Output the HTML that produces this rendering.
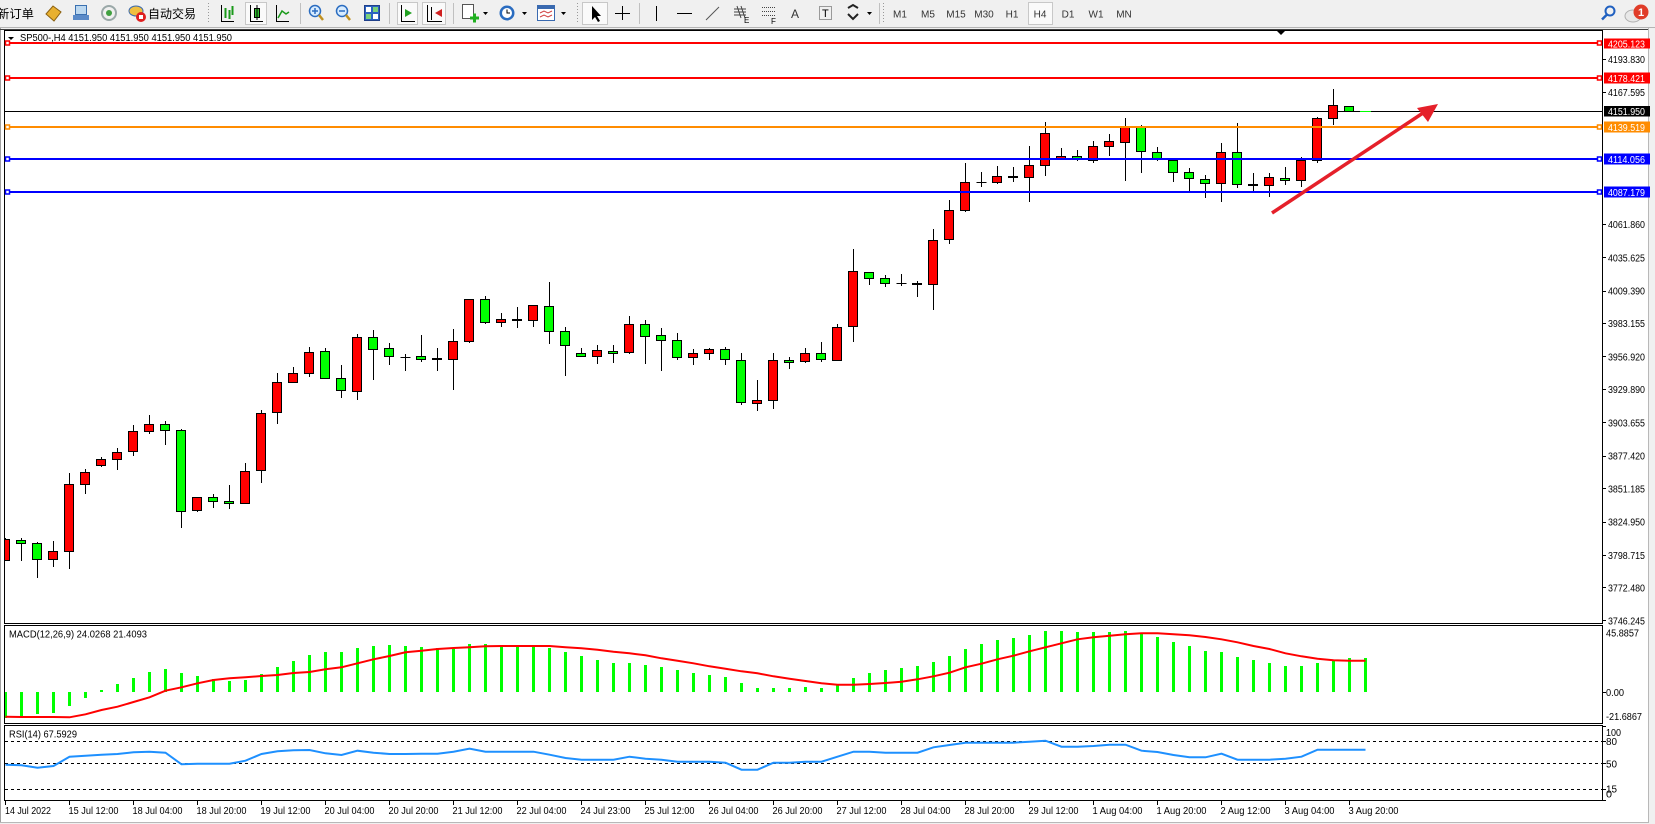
<!DOCTYPE html>
<html><head><meta charset="utf-8"><style>
html,body{margin:0;padding:0;background:#fff;overflow:hidden}
svg{display:block}
text{font-family:"Liberation Sans","Noto Sans CJK SC",sans-serif;font-size:10px;fill:#000}
</style></head><body>
<svg width="1655" height="824" viewBox="0 0 1655 824" xmlns="http://www.w3.org/2000/svg">
<defs>
<clipPath id="cm"><rect x="5" y="31" width="1597" height="592"/></clipPath>
<clipPath id="cd"><rect x="5" y="626" width="1597" height="97"/></clipPath>
<clipPath id="cr"><rect x="5" y="726" width="1597" height="74"/></clipPath>
</defs>
<!-- backgrounds -->
<rect x="0" y="0" width="1655" height="824" fill="#f0f0f0"/>
<rect x="1" y="30" width="1647" height="792" fill="#fff"/>
<line x1="0.5" y1="28" x2="0.5" y2="822" stroke="#a0a0a0"/>
<line x1="1648.5" y1="28" x2="1648.5" y2="823" stroke="#b8b8b8"/>
<line x1="0" y1="822.5" x2="1649" y2="822.5" stroke="#b8b8b8"/>
<!-- toolbar -->
<rect x="0" y="0" width="1655" height="27" fill="#f0f0f0"/>
<line x1="0" y1="27.5" x2="1655" y2="27.5" stroke="#b4b4b4"/>
<line x1="0" y1="29.5" x2="1648" y2="29.5" stroke="#404040"/>
<text x="-3" y="18" style="font-size:12px" textLength="37" lengthAdjust="spacingAndGlyphs">新订单</text>
<polygon points="46,14 53,6 61,12 54,21" fill="#e8b030" stroke="#8a6010"/>
<rect x="75.5" y="5.5" width="11" height="9" fill="#bcd8f0" stroke="#3a70b0"/>
<rect x="73" y="15" width="16" height="5" fill="#5a8ac8"/>
<circle cx="109" cy="13" r="7" fill="none" stroke="#9aa8a8" stroke-width="2"/>
<circle cx="109" cy="13" r="3" fill="#40a040"/>
<ellipse cx="136" cy="11" rx="7" ry="5" fill="#f0c040" stroke="#3a6ab0"/>
<circle cx="141" cy="17" r="5" fill="#e02020"/>
<rect x="139" y="15" width="4" height="4" fill="#fff"/>
<text x="148" y="18" style="font-size:12px" textLength="48" lengthAdjust="spacingAndGlyphs">自动交易</text>
<line x1="208.5" y1="3" x2="208.5" y2="24" stroke="#999" stroke-dasharray="1,2"/>
<path d="M221.5 5V21.5H234" stroke="#000" fill="none"/>
<path d="M225.5 8V18M229.5 10V19M232.5 6V15" stroke="#1a9a1a" stroke-width="2" fill="none"/>
<rect x="245.5" y="2.5" width="21" height="22" fill="#fafafa" stroke="#c8c8c8"/>
<path d="M250.5 5V21.5H263" stroke="#000" fill="none"/>
<rect x="254.5" y="8.5" width="5" height="9" fill="#30c030" stroke="#000"/>
<line x1="257" y1="5" x2="257" y2="20" stroke="#000"/>
<path d="M276.5 5V21.5H289" stroke="#000" fill="none"/>
<path d="M278 18L282 11L286 14L289 12" stroke="#1a9a1a" stroke-width="1.5" fill="none"/>
<line x1="300.5" y1="3" x2="300.5" y2="24" stroke="#c0c0c0"/>
<circle cx="315" cy="11" r="5.5" fill="#d8ecff" stroke="#2a6cc0" stroke-width="1.5"/>
<path d="M312 11h6M315 8v6" stroke="#2a6cc0" stroke-width="1.5"/>
<line x1="319" y1="15" x2="323" y2="20" stroke="#c09020" stroke-width="2.5"/>
<circle cx="342" cy="11" r="5.5" fill="#d8ecff" stroke="#2a6cc0" stroke-width="1.5"/>
<path d="M339 11h6" stroke="#2a6cc0" stroke-width="1.5"/>
<line x1="346" y1="15" x2="350" y2="20" stroke="#c09020" stroke-width="2.5"/>
<rect x="364.5" y="5.5" width="15" height="15" fill="#2a62c0" stroke="#20408a"/>
<rect x="366" y="7" width="5" height="5" fill="#fff"/><rect x="373" y="7" width="5" height="5" fill="#7ad07a"/>
<rect x="366" y="14" width="5" height="5" fill="#7ad07a"/><rect x="373" y="14" width="5" height="5" fill="#fff"/>
<line x1="389.5" y1="3" x2="389.5" y2="24" stroke="#c0c0c0"/>
<rect x="397.5" y="2.5" width="20" height="22" fill="#fafafa" stroke="#c8c8c8"/>
<path d="M401.5 5V21.5H415" stroke="#000" fill="none"/>
<polygon points="405,9 412,13 405,17" fill="#20a020"/>
<rect x="422.5" y="2.5" width="23" height="22" fill="#fafafa" stroke="#c8c8c8"/>
<path d="M427.5 5V21.5H442M431.5 7V20" stroke="#000" fill="none"/>
<polygon points="435,13 442,9 442,17" fill="#d02020"/>
<line x1="453.5" y1="3" x2="453.5" y2="24" stroke="#c0c0c0"/>
<rect x="462.5" y="4.5" width="11" height="14" fill="#fff" stroke="#555"/>
<path d="M470 18h9M474.5 13.5v9" stroke="#20b020" stroke-width="3"/>
<polygon points="483,12 488,12 485.5,15" fill="#000"/>
<circle cx="507" cy="13" r="7.5" fill="#2a6cc0"/>
<circle cx="507" cy="13" r="5" fill="#fff"/>
<path d="M507 9.5V13h3" stroke="#000" fill="none"/>
<polygon points="522,12 527,12 524.5,15" fill="#000"/>
<rect x="537.5" y="5.5" width="17" height="15" fill="#fff" stroke="#3a6ab0"/>
<rect x="538" y="6" width="16" height="3" fill="#3a6ab0"/>
<path d="M540 13l4 -2 4 2 4 -2M540 17l4 -2 4 2 4 -2" stroke="#d04040" fill="none"/>
<polygon points="561,12 566,12 563.5,15" fill="#000"/>
<line x1="577.5" y1="3" x2="577.5" y2="24" stroke="#999" stroke-dasharray="1,2"/>
<rect x="582.5" y="2.5" width="25" height="22" fill="#fafafa" stroke="#c8c8c8"/>
<polygon points="592,6 592,20 595,17 598,22 600,21 597,16 601,16" fill="#000"/>
<path d="M622.5 6v14M615 13.5h15" stroke="#000"/>
<line x1="639.5" y1="3" x2="639.5" y2="24" stroke="#c0c0c0"/>
<line x1="656.5" y1="6" x2="656.5" y2="21" stroke="#000"/>
<line x1="677" y1="13.5" x2="692" y2="13.5" stroke="#000"/>
<line x1="706" y1="20" x2="719" y2="7" stroke="#555"/>
<path d="M734 9h12M734 12h12M734 15h12M737 6l4 12M741 6l4 12" stroke="#444" fill="none"/>
<text x="744" y="23" style="font-size:8px">E</text>
<path d="M762 7.5h14M762 11.5h14M762 15.5h14" stroke="#444" stroke-dasharray="1,1"/>
<text x="771" y="24" style="font-size:8px">F</text>
<text x="791" y="18" style="font-size:12px;fill:#333">A</text>
<rect x="819.5" y="6.5" width="12" height="13" fill="none" stroke="#444" stroke-dasharray="1,1"/>
<text x="822" y="17" style="font-size:11px">T</text>
<path d="M848 8l5 -3 5 3M848 14l5 5 5 -5" stroke="#222" stroke-width="2" fill="none"/>
<polygon points="867,12 872,12 869.5,15" fill="#000"/>
<line x1="879.5" y1="3" x2="879.5" y2="24" stroke="#c0c0c0"/>
<line x1="883.5" y1="3" x2="883.5" y2="24" stroke="#999" stroke-dasharray="1,2"/>
<rect x="1028.5" y="2.5" width="24" height="22" fill="#fafafa" stroke="#c8c8c8"/>
<g style="font-size:10px">
<text x="900" y="17.5" text-anchor="middle" style="fill:#333">M1</text>
<text x="928" y="17.5" text-anchor="middle" style="fill:#333">M5</text>
<text x="956" y="17.5" text-anchor="middle" style="fill:#333">M15</text>
<text x="984" y="17.5" text-anchor="middle" style="fill:#333">M30</text>
<text x="1012" y="17.5" text-anchor="middle" style="fill:#333">H1</text>
<text x="1040" y="17.5" text-anchor="middle" style="fill:#333">H4</text>
<text x="1068" y="17.5" text-anchor="middle" style="fill:#333">D1</text>
<text x="1096" y="17.5" text-anchor="middle" style="fill:#333">W1</text>
<text x="1124" y="17.5" text-anchor="middle" style="fill:#333">MN</text>
</g>
<circle cx="1610" cy="11" r="4.5" fill="none" stroke="#2060c0" stroke-width="2"/>
<line x1="1607" y1="14.5" x2="1602" y2="19.5" stroke="#2060c0" stroke-width="2.5"/>
<ellipse cx="1633" cy="16" rx="8" ry="6" fill="#e8e8e8" stroke="#b0b0b0"/>
<circle cx="1641" cy="12" r="7.5" fill="#e03c28"/>
<text x="1641" y="16" text-anchor="middle" style="font-size:11px;fill:#fff;font-weight:bold">1</text>

<!-- panes frames -->
<rect x="4.5" y="30.5" width="1598" height="593" fill="none" stroke="#000"/>
<rect x="4.5" y="625.5" width="1598" height="98" fill="none" stroke="#000"/>
<rect x="4.5" y="725.5" width="1598" height="75" fill="none" stroke="#000"/>

<!-- bid line -->
<line x1="5" y1="111.5" x2="1602" y2="111.5" stroke="#000"/>

<!-- candles -->
<g clip-path="url(#cm)">
<path stroke="#000" fill="none" d="M5.5 538V561M21.5 538V561M37.5 542V578M53.5 541V567M69.5 473V569M85.5 469V494M101.5 457V467M117.5 448V470M133.5 425V456M149.5 415V434M165.5 421V445M181.5 429V528M197.5 497V512M213.5 494V508M229.5 485V509M245.5 463V504M261.5 410V483M277.5 373V424M293.5 367V383M309.5 347V377M325.5 348V379M341.5 365V398M357.5 334V400M373.5 330V380M389.5 343V365M405.5 354V371M421.5 335V362M437.5 348V371M453.5 329V390M469.5 299V343M485.5 296V324M501.5 313V327M517.5 307V328M533.5 305V327M549.5 282V344M565.5 327V376M581.5 348V356M597.5 345V364M613.5 345V363M629.5 316V354M645.5 320V364M661.5 328V371M677.5 333V360M693.5 349V365M709.5 348V360M725.5 347V365M741.5 353V405M757.5 380V411M773.5 353V409M789.5 357V369M805.5 348V363M821.5 342V362M837.5 324V360M853.5 249V342M869.5 272V285M885.5 275V287M901.5 274V286M917.5 281V297M933.5 229V310M949.5 200V244M965.5 163V212M981.5 172V187M997.5 166V184M1013.5 167V182M1029.5 146V202M1045.5 122V176M1061.5 148V158M1077.5 150V161M1093.5 141V163M1109.5 134V156M1125.5 118V181M1141.5 125V173M1157.5 147V161M1173.5 158V182M1189.5 168V191M1205.5 175V198M1221.5 143V202M1237.5 123V188M1253.5 173V192M1269.5 173V197M1285.5 167V185M1301.5 157V187M1317.5 117V163M1333.5 89V125M1349.5 106V112"/>
<g fill="#ff0000" stroke="#000">
<rect x="0.5" y="539.5" width="9" height="21"/>
<rect x="48.5" y="551.5" width="9" height="8"/>
<rect x="64.5" y="484.5" width="9" height="67"/>
<rect x="80.5" y="472.5" width="9" height="12"/>
<rect x="96.5" y="459.5" width="9" height="6"/>
<rect x="112.5" y="452.5" width="9" height="7"/>
<rect x="128.5" y="431.5" width="9" height="20"/>
<rect x="144.5" y="424.5" width="9" height="7"/>
<rect x="192.5" y="497.5" width="9" height="13"/>
<rect x="240.5" y="471.5" width="9" height="32"/>
<rect x="256.5" y="413.5" width="9" height="57"/>
<rect x="272.5" y="382.5" width="9" height="30"/>
<rect x="288.5" y="373.5" width="9" height="9"/>
<rect x="304.5" y="352.5" width="9" height="21"/>
<rect x="352.5" y="337.5" width="9" height="54"/>
<rect x="448.5" y="341.5" width="9" height="18"/>
<rect x="464.5" y="299.5" width="9" height="42"/>
<rect x="496.5" y="319.5" width="9" height="3"/>
<rect x="528.5" y="305.5" width="9" height="15"/>
<rect x="592.5" y="350.5" width="9" height="6"/>
<rect x="624.5" y="324.5" width="9" height="28"/>
<rect x="688.5" y="353.5" width="9" height="4"/>
<rect x="704.5" y="349.5" width="9" height="4"/>
<rect x="752.5" y="400.5" width="9" height="3"/>
<rect x="768.5" y="360.5" width="9" height="40"/>
<rect x="800.5" y="353.5" width="9" height="8"/>
<rect x="832.5" y="327.5" width="9" height="33"/>
<rect x="848.5" y="271.5" width="9" height="55"/>
<rect x="928.5" y="240.5" width="9" height="44"/>
<rect x="944.5" y="210.5" width="9" height="29"/>
<rect x="960.5" y="182.5" width="9" height="28"/>
<rect x="992.5" y="176.5" width="9" height="6"/>
<rect x="1024.5" y="165.5" width="9" height="12"/>
<rect x="1040.5" y="133.5" width="9" height="32"/>
<rect x="1056.5" y="156.5" width="9" height="2"/>
<rect x="1088.5" y="146.5" width="9" height="14"/>
<rect x="1104.5" y="141.5" width="9" height="5"/>
<rect x="1120.5" y="127.5" width="9" height="15"/>
<rect x="1216.5" y="152.5" width="9" height="31"/>
<rect x="1264.5" y="177.5" width="9" height="8"/>
<rect x="1296.5" y="160.5" width="9" height="20"/>
<rect x="1312.5" y="118.5" width="9" height="42"/>
<rect x="1328.5" y="105.5" width="9" height="13"/>
</g>
<g fill="#00ff00" stroke="#000">
<rect x="16.5" y="540.5" width="9" height="3"/>
<rect x="32.5" y="543.5" width="9" height="16"/>
<rect x="160.5" y="424.5" width="9" height="6"/>
<rect x="176.5" y="430.5" width="9" height="81"/>
<rect x="208.5" y="497.5" width="9" height="4"/>
<rect x="224.5" y="501.5" width="9" height="2"/>
<rect x="320.5" y="351.5" width="9" height="27"/>
<rect x="336.5" y="378.5" width="9" height="12"/>
<rect x="368.5" y="337.5" width="9" height="12"/>
<rect x="384.5" y="348.5" width="9" height="8"/>
<rect x="416.5" y="356.5" width="9" height="3"/>
<rect x="480.5" y="299.5" width="9" height="23"/>
<rect x="544.5" y="306.5" width="9" height="25"/>
<rect x="560.5" y="331.5" width="9" height="14"/>
<rect x="576.5" y="353.5" width="9" height="3"/>
<rect x="608.5" y="351.5" width="9" height="2"/>
<rect x="640.5" y="324.5" width="9" height="12"/>
<rect x="656.5" y="335.5" width="9" height="5"/>
<rect x="672.5" y="340.5" width="9" height="17"/>
<rect x="720.5" y="349.5" width="9" height="10"/>
<rect x="736.5" y="360.5" width="9" height="42"/>
<rect x="784.5" y="360.5" width="9" height="2"/>
<rect x="816.5" y="353.5" width="9" height="6"/>
<rect x="864.5" y="272.5" width="9" height="6"/>
<rect x="880.5" y="278.5" width="9" height="5"/>
<rect x="1072.5" y="156.5" width="9" height="2"/>
<rect x="1136.5" y="127.5" width="9" height="24"/>
<rect x="1152.5" y="152.5" width="9" height="7"/>
<rect x="1168.5" y="160.5" width="9" height="12"/>
<rect x="1184.5" y="172.5" width="9" height="6"/>
<rect x="1200.5" y="179.5" width="9" height="4"/>
<rect x="1232.5" y="152.5" width="9" height="32"/>
<rect x="1280.5" y="178.5" width="9" height="2"/>
<rect x="1344.5" y="106.5" width="9" height="5"/>
</g>
<path stroke="#000" d="M400.5 357.5h10M896.5 283.5h10M976.5 182.5h10"/>
<g fill="#000">
<rect x="432" y="358" width="10" height="2"/>
<rect x="512" y="319" width="10" height="2"/>
<rect x="912" y="283" width="10" height="2"/>
<rect x="1008" y="176" width="10" height="2"/>
<rect x="1248" y="184" width="10" height="2"/>
</g>
<line x1="1360" y1="111.5" x2="1371" y2="111.5" stroke="#00ff00"/>
</g>

<!-- horizontal objects -->
<g stroke-width="2" fill="none">
<line x1="5" y1="43" x2="1602" y2="43" stroke="#ff0000"/>
<line x1="5" y1="78" x2="1602" y2="78" stroke="#ff0000"/>
<line x1="5" y1="127" x2="1602" y2="127" stroke="#ff8c00"/>
<line x1="5" y1="159" x2="1602" y2="159" stroke="#0000ff"/>
<line x1="5" y1="192" x2="1602" y2="192" stroke="#0000ff"/>
</g>
<g fill="#fff" stroke-width="1.5">
<rect x="5.5" y="41" width="4" height="4" stroke="#ff0000"/><rect x="1597.5" y="41" width="4" height="4" stroke="#ff0000"/>
<rect x="5.5" y="76" width="4" height="4" stroke="#ff0000"/><rect x="1597.5" y="76" width="4" height="4" stroke="#ff0000"/>
<rect x="5.5" y="125" width="4" height="4" stroke="#ff8c00"/><rect x="1597.5" y="125" width="4" height="4" stroke="#ff8c00"/>
<rect x="5.5" y="157" width="4" height="4" stroke="#0000ff"/><rect x="1597.5" y="157" width="4" height="4" stroke="#0000ff"/>
<rect x="5.5" y="190" width="4" height="4" stroke="#0000ff"/><rect x="1597.5" y="190" width="4" height="4" stroke="#0000ff"/>
</g>

<!-- arrow -->
<line x1="1272" y1="213" x2="1426" y2="111" stroke="#e5202a" stroke-width="3.5"/>
<polygon points="1438,104 1417,108 1428,122" fill="#e5202a"/>

<!-- chart shift marker -->
<polygon points="1277,31 1285,31 1281,35" fill="#000"/>

<!-- title -->
<polygon points="8,37 14,37 11,40" fill="#000"/>
<text x="20" y="41" textLength="212" lengthAdjust="spacingAndGlyphs">SP500-,H4  4151.950 4151.950 4151.950 4151.950</text>

<!-- price axis -->
<path stroke="#000" d="M1602 59.5h4M1602 92.5h4M1602 224.5h4M1602 257.5h4M1602 291.5h4M1602 323.5h4M1602 356.5h4M1602 389.5h4M1602 422.5h4M1602 456.5h4M1602 488.5h4M1602 522.5h4M1602 555.5h4M1602 587.5h4M1602 620.5h4"/>
<g>
<text x="1608" y="63" textLength="37" lengthAdjust="spacingAndGlyphs">4193.830</text>
<text x="1608" y="96.2" textLength="37" lengthAdjust="spacingAndGlyphs">4167.595</text>
<text x="1608" y="228" textLength="37" lengthAdjust="spacingAndGlyphs">4061.860</text>
<text x="1608" y="261.3" textLength="37" lengthAdjust="spacingAndGlyphs">4035.625</text>
<text x="1608" y="294.6" textLength="37" lengthAdjust="spacingAndGlyphs">4009.390</text>
<text x="1608" y="327" textLength="37" lengthAdjust="spacingAndGlyphs">3983.155</text>
<text x="1608" y="360.3" textLength="37" lengthAdjust="spacingAndGlyphs">3956.920</text>
<text x="1608" y="393" textLength="37" lengthAdjust="spacingAndGlyphs">3929.890</text>
<text x="1608" y="426.3" textLength="37" lengthAdjust="spacingAndGlyphs">3903.655</text>
<text x="1608" y="459.6" textLength="37" lengthAdjust="spacingAndGlyphs">3877.420</text>
<text x="1608" y="492.3" textLength="37" lengthAdjust="spacingAndGlyphs">3851.185</text>
<text x="1608" y="525.6" textLength="37" lengthAdjust="spacingAndGlyphs">3824.950</text>
<text x="1608" y="559" textLength="37" lengthAdjust="spacingAndGlyphs">3798.715</text>
<text x="1608" y="591.3" textLength="37" lengthAdjust="spacingAndGlyphs">3772.480</text>
<text x="1608" y="624.3" textLength="37" lengthAdjust="spacingAndGlyphs">3746.245</text>
</g>
<rect x="1604" y="38.5" width="46" height="10" fill="#ff0000"/>
<text x="1608" y="47.3" textLength="37" lengthAdjust="spacingAndGlyphs" style="fill:#fff">4205.123</text>
<rect x="1604" y="72.5" width="46" height="11" fill="#ff0000"/>
<text x="1608" y="81.8" textLength="37" lengthAdjust="spacingAndGlyphs" style="fill:#fff">4178.421</text>
<rect x="1604" y="106" width="46" height="10.5" fill="#000"/>
<text x="1608" y="115" textLength="37" lengthAdjust="spacingAndGlyphs" style="fill:#fff">4151.950</text>
<rect x="1604" y="121.5" width="46" height="11" fill="#ff8c00"/>
<text x="1608" y="130.8" textLength="37" lengthAdjust="spacingAndGlyphs" style="fill:#fff">4139.519</text>
<rect x="1604" y="153.5" width="46" height="11" fill="#0000ff"/>
<text x="1608" y="162.8" textLength="37" lengthAdjust="spacingAndGlyphs" style="fill:#fff">4114.056</text>
<rect x="1604" y="186.5" width="46" height="11" fill="#0000ff"/>
<text x="1608" y="195.8" textLength="37" lengthAdjust="spacingAndGlyphs" style="fill:#fff">4087.179</text>

<!-- MACD -->
<g clip-path="url(#cd)">
<path stroke="#00ff00" stroke-width="3" fill="none" d="M5.5 692V718M21.5 692V716M37.5 692V714M53.5 692V713M69.5 692V706M85.5 692V698M101.5 690V692M117.5 684V692M133.5 678V692M149.5 672V692M165.5 669V692M181.5 673V692M197.5 676V692M213.5 679V692M229.5 681V692M245.5 680V692M261.5 674V692M277.5 667V692M293.5 661V692M309.5 655V692M325.5 652V692M341.5 652V692M357.5 648V692M373.5 646V692M389.5 645V692M405.5 646V692M421.5 647V692M437.5 648V692M453.5 649V692M469.5 644V692M485.5 644V692M501.5 646V692M517.5 646V692M533.5 647V692M549.5 648V692M565.5 652V692M581.5 656V692M597.5 660V692M613.5 663V692M629.5 663V692M645.5 665V692M661.5 667V692M677.5 670V692M693.5 673V692M709.5 675V692M725.5 677V692M741.5 683V692M757.5 688V692M773.5 688V692M789.5 688V692M805.5 687V692M821.5 688V692M837.5 685V692M853.5 678V692M869.5 673V692M885.5 670V692M901.5 668V692M917.5 666V692M933.5 662V692M949.5 656V692M965.5 649V692M981.5 644V692M997.5 640V692M1013.5 638V692M1029.5 635V692M1045.5 631V692M1061.5 631V692M1077.5 632V692M1093.5 632V692M1109.5 632V692M1125.5 631V692M1141.5 634V692M1157.5 637V692M1173.5 642V692M1189.5 646V692M1205.5 651V692M1221.5 652V692M1237.5 657V692M1253.5 660V692M1269.5 663V692M1285.5 666V692M1301.5 666V692M1317.5 663V692M1333.5 661V692M1349.5 658V692M1365.5 658V692"/>
<polyline fill="none" stroke="#ff0000" stroke-width="2" points="5.5,716.7 21.5,717 37.5,717 53.5,717 69.5,717.3 85.5,714.3 101.5,710 117.5,706.7 133.5,702 149.5,697.3 165.5,690.7 181.5,687.3 197.5,683.3 213.5,680 229.5,678.3 245.5,677.3 261.5,676 277.5,675 293.5,673 309.5,672 325.5,669.3 341.5,667.3 357.5,663.3 373.5,659.3 389.5,656 405.5,652.3 421.5,650.7 437.5,649 453.5,648 469.5,647.3 485.5,646.3 501.5,646 517.5,646 533.5,646 549.5,646 565.5,647.3 581.5,648.3 597.5,649.7 613.5,651.7 629.5,653.3 645.5,655.3 661.5,658.3 677.5,660.7 693.5,663.3 709.5,666.3 725.5,668.7 741.5,671.3 757.5,673.3 773.5,676.3 789.5,678.7 805.5,681 821.5,683.3 837.5,684.7 853.5,684.7 869.5,684 885.5,683 901.5,681.7 917.5,679.3 933.5,676.3 949.5,672.7 965.5,667.3 981.5,663.7 997.5,659.3 1013.5,655.7 1029.5,651.3 1045.5,647.3 1061.5,643.3 1077.5,639.3 1093.5,637.3 1109.5,635.7 1125.5,634.3 1141.5,633.3 1157.5,633.3 1173.5,634.3 1189.5,635.3 1205.5,637 1221.5,639.3 1237.5,642.3 1253.5,646 1269.5,649 1285.5,653.3 1301.5,656.3 1317.5,658.7 1333.5,660.3 1349.5,660.7 1365.5,660.7"/>
</g>
<text x="9" y="637.7" textLength="138" lengthAdjust="spacingAndGlyphs">MACD(12,26,9) 24.0268 21.4093</text>
<path stroke="#000" d="M1602 692.5h4"/>
<text x="1606" y="636.7" textLength="33" lengthAdjust="spacingAndGlyphs">45.8857</text>
<text x="1606" y="696" textLength="18" lengthAdjust="spacingAndGlyphs">0.00</text>
<text x="1606" y="720" textLength="36" lengthAdjust="spacingAndGlyphs">-21.6867</text>

<!-- RSI -->
<g stroke="#000" stroke-dasharray="3,3">
<line x1="5" y1="741.5" x2="1602" y2="741.5"/>
<line x1="5" y1="763.5" x2="1602" y2="763.5"/>
<line x1="5" y1="789.5" x2="1602" y2="789.5"/>
</g>
<g clip-path="url(#cr)">
<polyline fill="none" stroke="#1e90ff" stroke-width="2" points="5.5,764.7 21.5,765.3 37.5,767.7 53.5,766 69.5,756.7 85.5,755.7 101.5,754.7 117.5,754 133.5,752.3 149.5,751.7 165.5,752.7 181.5,764.3 197.5,763.7 213.5,763.7 229.5,763.7 245.5,760.7 261.5,754 277.5,751.3 293.5,750.3 309.5,750 325.5,753.3 341.5,755 357.5,750.7 373.5,752.7 389.5,754 405.5,754 421.5,753.7 437.5,753.7 453.5,751.7 469.5,748.7 485.5,751.7 501.5,751.7 517.5,751.7 533.5,751.7 549.5,754.7 565.5,758 581.5,759.7 597.5,759.7 613.5,759.7 629.5,756.7 645.5,758.7 661.5,759.7 677.5,761.7 693.5,761.7 709.5,761.7 725.5,762.7 741.5,769.7 757.5,769.7 773.5,762.7 789.5,762.7 805.5,761.7 821.5,761.7 837.5,756.7 853.5,751.7 869.5,751.7 885.5,752.7 901.5,752.7 917.5,752.7 933.5,747.3 949.5,745 965.5,742.7 981.5,742.7 997.5,742.7 1013.5,742.7 1029.5,741.7 1045.5,740.7 1061.5,746.7 1077.5,746.7 1093.5,746 1109.5,744.7 1125.5,744.7 1141.5,750.7 1157.5,752 1173.5,755 1189.5,757.3 1205.5,757.3 1221.5,753.7 1237.5,759.7 1253.5,759.7 1269.5,759.7 1285.5,758.7 1301.5,756.7 1317.5,749.7 1333.5,749.7 1349.5,749.7 1365.5,749.7"/>
</g>
<text x="9" y="737.7" textLength="68" lengthAdjust="spacingAndGlyphs">RSI(14) 67.5929</text>
<path stroke="#000" d="M1602 726.5h4M1602 741.5h4M1602 763.5h4M1602 789.5h4M1602 800.5h4"/>
<text x="1606" y="736" textLength="15" lengthAdjust="spacingAndGlyphs">100</text>
<text x="1606" y="745" textLength="11" lengthAdjust="spacingAndGlyphs">80</text>
<text x="1606" y="767.3" textLength="11" lengthAdjust="spacingAndGlyphs">50</text>
<text x="1606" y="792.7" textLength="11" lengthAdjust="spacingAndGlyphs">15</text>
<text x="1606" y="797.7" textLength="6" lengthAdjust="spacingAndGlyphs">0</text>

<!-- time axis -->
<path stroke="#000" d="M5.5 801v4M69.5 801v4M133.5 801v4M197.5 801v4M261.5 801v4M325.5 801v4M389.5 801v4M453.5 801v4M517.5 801v4M581.5 801v4M645.5 801v4M709.5 801v4M773.5 801v4M837.5 801v4M901.5 801v4M965.5 801v4M1029.5 801v4M1093.5 801v4M1157.5 801v4M1221.5 801v4M1285.5 801v4M1349.5 801v4"/>
<g>
<text x="5" y="814" textLength="46" lengthAdjust="spacingAndGlyphs">14 Jul 2022</text>
<text x="68.5" y="814" textLength="50" lengthAdjust="spacingAndGlyphs">15 Jul 12:00</text>
<text x="132.5" y="814" textLength="50" lengthAdjust="spacingAndGlyphs">18 Jul 04:00</text>
<text x="196.5" y="814" textLength="50" lengthAdjust="spacingAndGlyphs">18 Jul 20:00</text>
<text x="260.5" y="814" textLength="50" lengthAdjust="spacingAndGlyphs">19 Jul 12:00</text>
<text x="324.5" y="814" textLength="50" lengthAdjust="spacingAndGlyphs">20 Jul 04:00</text>
<text x="388.5" y="814" textLength="50" lengthAdjust="spacingAndGlyphs">20 Jul 20:00</text>
<text x="452.5" y="814" textLength="50" lengthAdjust="spacingAndGlyphs">21 Jul 12:00</text>
<text x="516.5" y="814" textLength="50" lengthAdjust="spacingAndGlyphs">22 Jul 04:00</text>
<text x="580.5" y="814" textLength="50" lengthAdjust="spacingAndGlyphs">24 Jul 23:00</text>
<text x="644.5" y="814" textLength="50" lengthAdjust="spacingAndGlyphs">25 Jul 12:00</text>
<text x="708.5" y="814" textLength="50" lengthAdjust="spacingAndGlyphs">26 Jul 04:00</text>
<text x="772.5" y="814" textLength="50" lengthAdjust="spacingAndGlyphs">26 Jul 20:00</text>
<text x="836.5" y="814" textLength="50" lengthAdjust="spacingAndGlyphs">27 Jul 12:00</text>
<text x="900.5" y="814" textLength="50" lengthAdjust="spacingAndGlyphs">28 Jul 04:00</text>
<text x="964.5" y="814" textLength="50" lengthAdjust="spacingAndGlyphs">28 Jul 20:00</text>
<text x="1028.5" y="814" textLength="50" lengthAdjust="spacingAndGlyphs">29 Jul 12:00</text>
<text x="1092.5" y="814" textLength="50" lengthAdjust="spacingAndGlyphs">1 Aug 04:00</text>
<text x="1156.5" y="814" textLength="50" lengthAdjust="spacingAndGlyphs">1 Aug 20:00</text>
<text x="1220.5" y="814" textLength="50" lengthAdjust="spacingAndGlyphs">2 Aug 12:00</text>
<text x="1284.5" y="814" textLength="50" lengthAdjust="spacingAndGlyphs">3 Aug 04:00</text>
<text x="1348.5" y="814" textLength="50" lengthAdjust="spacingAndGlyphs">3 Aug 20:00</text>
</g>
</svg>
</body></html>
